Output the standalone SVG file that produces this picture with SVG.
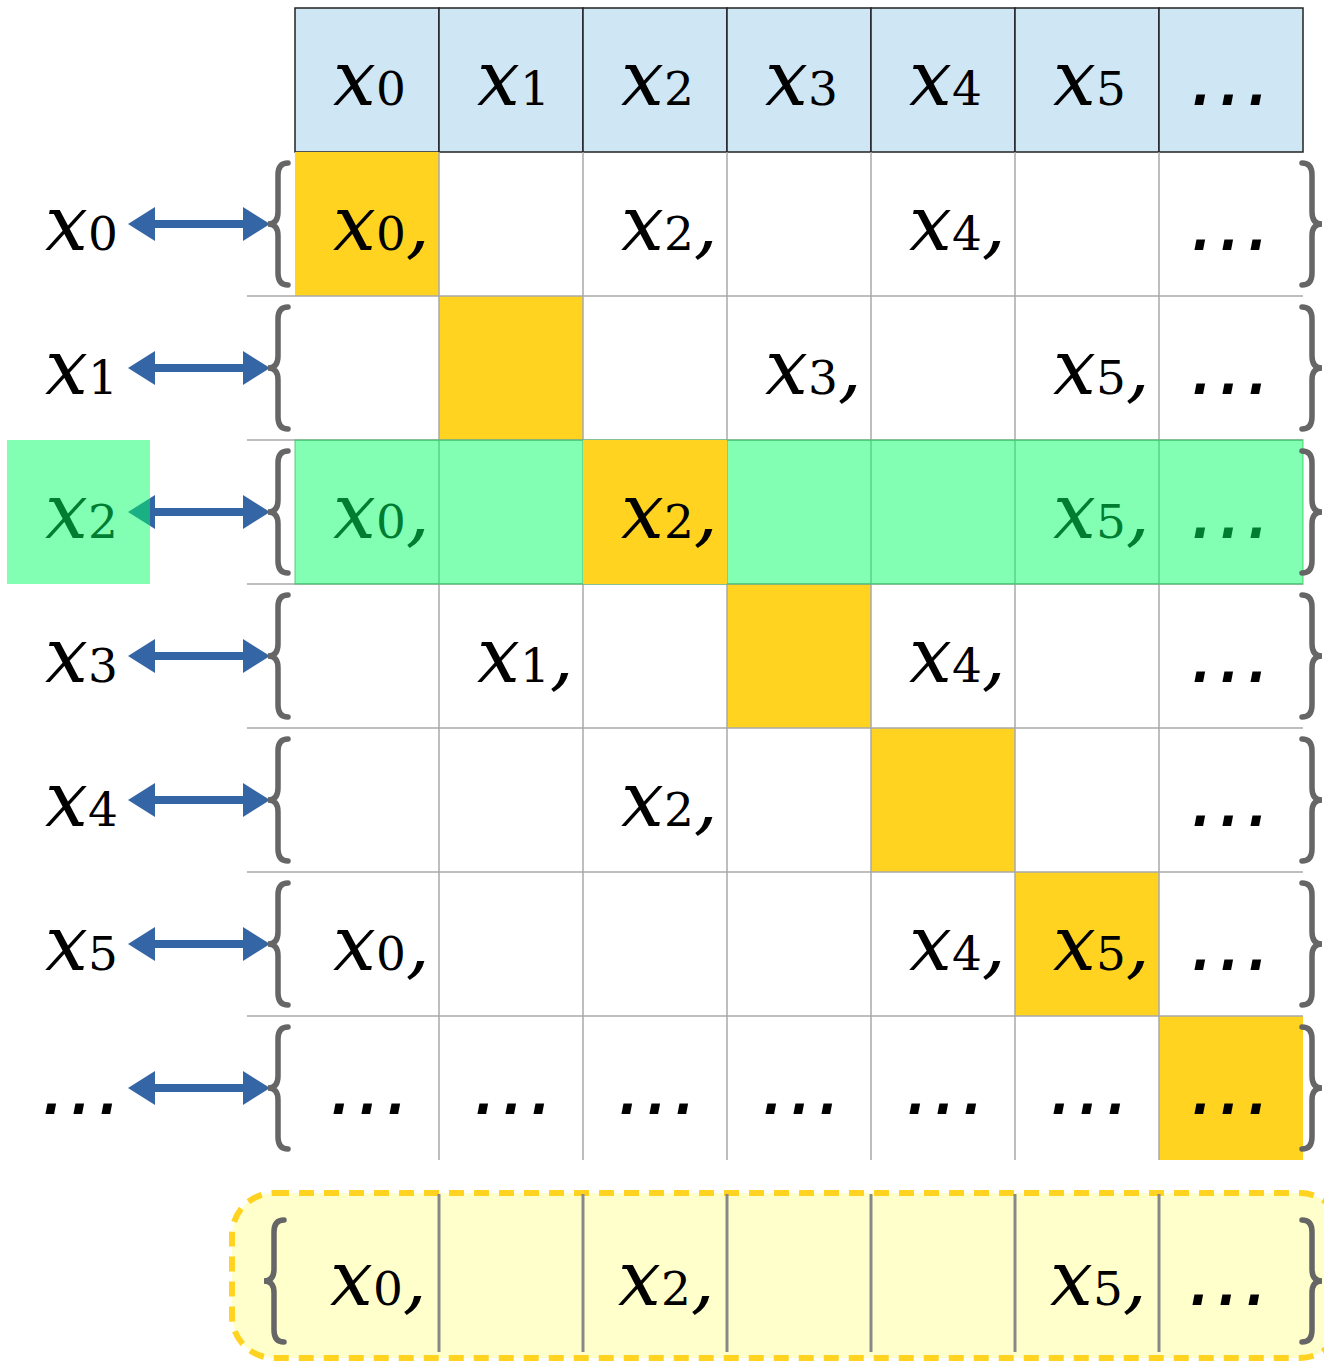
<svg xmlns="http://www.w3.org/2000/svg" xmlns:xlink="http://www.w3.org/1999/xlink" width="1324" height="1362" viewBox="0 0 1324 1362">
<style>
text{font-family:"DejaVu Serif","Liberation Serif",serif;fill:#000}
.v{font-style:italic;font-size:76px}
.s{font-style:normal;font-size:47px}
.e{font-family:"DejaVu Sans","Liberation Sans",sans-serif;font-style:italic;font-size:84px}
.hdr{fill:#CFE6F4;stroke:#222;stroke-width:1.5}
.diag{fill:#FFD320}
.grid{stroke:#A8A8A8;stroke-width:1.5}
.brace{fill:none;stroke:#666;stroke-width:5.5;stroke-linecap:round}
.arrow{stroke:#3465A4;stroke-width:8}
.green{fill:#00FF64;fill-opacity:0.49;stroke:#2DBE5A;stroke-opacity:0.5;stroke-width:1.5}
.greenL{fill:#00FF64;fill-opacity:0.49}
.sep{stroke:#888;stroke-width:3}
</style>
<defs>
<path id="br" d="M20,-61 Q10,-61 10,-49 L10,-12 Q10,0 0,0 Q10,0 10,12 L10,49 Q10,61 20,61"/>
<marker id="ah" viewBox="0 0 27 34" markerWidth="27" markerHeight="34" refX="5" refY="17" orient="auto-start-reverse" markerUnits="userSpaceOnUse">
<path d="M0,0 L27,17 L0,34 z" fill="#3465A4"/>
</marker>
</defs>
<rect width="1324" height="1362" fill="#fff"/>

<g id="header">
<rect class="hdr" x="295" y="8" width="144" height="144"/>
<rect class="hdr" x="439" y="8" width="144" height="144"/>
<rect class="hdr" x="583" y="8" width="144" height="144"/>
<rect class="hdr" x="727" y="8" width="144" height="144"/>
<rect class="hdr" x="871" y="8" width="144" height="144"/>
<rect class="hdr" x="1015" y="8" width="144" height="144"/>
<rect class="hdr" x="1159" y="8" width="144" height="144"/>
<text x="333" y="105"><tspan class="v">x</tspan><tspan class="s">0</tspan></text>
<text x="477" y="105"><tspan class="v">x</tspan><tspan class="s">1</tspan></text>
<text x="621" y="105"><tspan class="v">x</tspan><tspan class="s">2</tspan></text>
<text x="765" y="105"><tspan class="v">x</tspan><tspan class="s">3</tspan></text>
<text x="909" y="105"><tspan class="v">x</tspan><tspan class="s">4</tspan></text>
<text x="1053" y="105"><tspan class="v">x</tspan><tspan class="s">5</tspan></text>
<text class="e" x="1189" y="105">…</text>
</g>

<g id="diagonal">
<rect class="diag" x="295" y="152" width="144" height="144"/>
<rect class="diag" x="439" y="296" width="144" height="144"/>
<rect class="diag" x="727" y="584" width="144" height="144"/>
<rect class="diag" x="871" y="728" width="144" height="144"/>
<rect class="diag" x="1015" y="872" width="144" height="144"/>
<rect class="diag" x="1159" y="1016" width="144" height="144"/>
</g>

<g id="gridlines">
<line class="grid" x1="247" y1="296" x2="1303" y2="296"/>
<line class="grid" x1="247" y1="440" x2="1303" y2="440"/>
<line class="grid" x1="247" y1="584" x2="1303" y2="584"/>
<line class="grid" x1="247" y1="728" x2="1303" y2="728"/>
<line class="grid" x1="247" y1="872" x2="1303" y2="872"/>
<line class="grid" x1="247" y1="1016" x2="1303" y2="1016"/>
<line class="grid" x1="439" y1="152" x2="439" y2="1160"/>
<line class="grid" x1="583" y1="152" x2="583" y2="1160"/>
<line class="grid" x1="727" y1="152" x2="727" y2="1160"/>
<line class="grid" x1="871" y1="152" x2="871" y2="1160"/>
<line class="grid" x1="1015" y1="152" x2="1015" y2="1160"/>
<line class="grid" x1="1159" y1="152" x2="1159" y2="1160"/>
</g>

<g id="row0">
<text x="333" y="250"><tspan class="v">x</tspan><tspan class="s">0</tspan><tspan class="v">,</tspan></text>
<text x="621" y="250"><tspan class="v">x</tspan><tspan class="s">2</tspan><tspan class="v">,</tspan></text>
<text x="909" y="250"><tspan class="v">x</tspan><tspan class="s">4</tspan><tspan class="v">,</tspan></text>
<text class="e" x="1189" y="250">…</text>
</g>
<g id="row1">
<text x="765" y="394"><tspan class="v">x</tspan><tspan class="s">3</tspan><tspan class="v">,</tspan></text>
<text x="1053" y="394"><tspan class="v">x</tspan><tspan class="s">5</tspan><tspan class="v">,</tspan></text>
<text class="e" x="1189" y="394">…</text>
</g>
<g id="row2">
<text x="333" y="538"><tspan class="v">x</tspan><tspan class="s">0</tspan><tspan class="v">,</tspan></text>
<text x="1053" y="538"><tspan class="v">x</tspan><tspan class="s">5</tspan><tspan class="v">,</tspan></text>
<text class="e" x="1189" y="538">…</text>
</g>
<g id="row3">
<text x="477" y="682"><tspan class="v">x</tspan><tspan class="s">1</tspan><tspan class="v">,</tspan></text>
<text x="909" y="682"><tspan class="v">x</tspan><tspan class="s">4</tspan><tspan class="v">,</tspan></text>
<text class="e" x="1189" y="682">…</text>
</g>
<g id="row4">
<text x="621" y="826"><tspan class="v">x</tspan><tspan class="s">2</tspan><tspan class="v">,</tspan></text>
<text class="e" x="1189" y="826">…</text>
</g>
<g id="row5">
<text x="333" y="970"><tspan class="v">x</tspan><tspan class="s">0</tspan><tspan class="v">,</tspan></text>
<text x="909" y="970"><tspan class="v">x</tspan><tspan class="s">4</tspan><tspan class="v">,</tspan></text>
<text x="1053" y="970"><tspan class="v">x</tspan><tspan class="s">5</tspan><tspan class="v">,</tspan></text>
<text class="e" x="1189" y="970">…</text>
</g>
<g id="row6">
<text class="e" x="328" y="1114">…</text>
<text class="e" x="472" y="1114">…</text>
<text class="e" x="616" y="1114">…</text>
<text class="e" x="760" y="1114">…</text>
<text class="e" x="904" y="1114">…</text>
<text class="e" x="1048" y="1114">…</text>
<text class="e" x="1189" y="1114">…</text>
</g>

<g id="labels">
<text x="45" y="250"><tspan class="v">x</tspan><tspan class="s">0</tspan></text>
<text x="45" y="394"><tspan class="v">x</tspan><tspan class="s">1</tspan></text>
<text x="45" y="538"><tspan class="v">x</tspan><tspan class="s">2</tspan></text>
<text x="45" y="682"><tspan class="v">x</tspan><tspan class="s">3</tspan></text>
<text x="45" y="826"><tspan class="v">x</tspan><tspan class="s">4</tspan></text>
<text x="45" y="970"><tspan class="v">x</tspan><tspan class="s">5</tspan></text>
<text class="e" x="40" y="1114">…</text>
</g>

<g id="connectors">
<line class="arrow" x1="150" y1="224" x2="248" y2="224" marker-start="url(#ah)" marker-end="url(#ah)"/>
<line class="arrow" x1="150" y1="368" x2="248" y2="368" marker-start="url(#ah)" marker-end="url(#ah)"/>
<line class="arrow" x1="150" y1="512" x2="248" y2="512" marker-start="url(#ah)" marker-end="url(#ah)"/>
<line class="arrow" x1="150" y1="656" x2="248" y2="656" marker-start="url(#ah)" marker-end="url(#ah)"/>
<line class="arrow" x1="150" y1="800" x2="248" y2="800" marker-start="url(#ah)" marker-end="url(#ah)"/>
<line class="arrow" x1="150" y1="944" x2="248" y2="944" marker-start="url(#ah)" marker-end="url(#ah)"/>
<line class="arrow" x1="150" y1="1088" x2="248" y2="1088" marker-start="url(#ah)" marker-end="url(#ah)"/>
</g>

<g id="highlight">
<rect class="green" x="295" y="440" width="1008" height="144"/>
<rect class="greenL" x="7" y="440" width="143" height="144"/>
<rect class="diag" x="583" y="440" width="144" height="144"/>
<text x="621" y="538"><tspan class="v">x</tspan><tspan class="s">2</tspan><tspan class="v">,</tspan></text>
</g>

<g id="braces">
<use xlink:href="#br" class="brace" transform="translate(268,224)"/>
<use xlink:href="#br" class="brace" transform="translate(268,368)"/>
<use xlink:href="#br" class="brace" transform="translate(268,512)"/>
<use xlink:href="#br" class="brace" transform="translate(268,656)"/>
<use xlink:href="#br" class="brace" transform="translate(268,800)"/>
<use xlink:href="#br" class="brace" transform="translate(268,944)"/>
<use xlink:href="#br" class="brace" transform="translate(268,1088)"/>
<use xlink:href="#br" class="brace" transform="translate(1322,224) scale(-1,1)"/>
<use xlink:href="#br" class="brace" transform="translate(1322,368) scale(-1,1)"/>
<use xlink:href="#br" class="brace" transform="translate(1322,512) scale(-1,1)"/>
<use xlink:href="#br" class="brace" transform="translate(1322,656) scale(-1,1)"/>
<use xlink:href="#br" class="brace" transform="translate(1322,800) scale(-1,1)"/>
<use xlink:href="#br" class="brace" transform="translate(1322,944) scale(-1,1)"/>
<use xlink:href="#br" class="brace" transform="translate(1322,1088) scale(-1,1)"/>
</g>

<g id="result">
<rect x="232" y="1193" width="1110" height="165" rx="42" ry="42" fill="#FFFFCC" stroke="#FFD320" stroke-width="6" stroke-dasharray="15 10"/>
<line class="sep" x1="439" y1="1194" x2="439" y2="1352"/>
<line class="sep" x1="583" y1="1194" x2="583" y2="1352"/>
<line class="sep" x1="727" y1="1194" x2="727" y2="1352"/>
<line class="sep" x1="871" y1="1194" x2="871" y2="1352"/>
<line class="sep" x1="1015" y1="1194" x2="1015" y2="1352"/>
<line class="sep" x1="1159" y1="1194" x2="1159" y2="1352"/>
<use xlink:href="#br" class="brace" transform="translate(264,1281)"/>
<use xlink:href="#br" class="brace" transform="translate(1322,1281) scale(-1,1)"/>
<text x="330" y="1305"><tspan class="v">x</tspan><tspan class="s">0</tspan><tspan class="v">,</tspan></text>
<text x="618" y="1305"><tspan class="v">x</tspan><tspan class="s">2</tspan><tspan class="v">,</tspan></text>
<text x="1050" y="1305"><tspan class="v">x</tspan><tspan class="s">5</tspan><tspan class="v">,</tspan></text>
<text class="e" x="1187" y="1305">…</text>
</g>
</svg>
